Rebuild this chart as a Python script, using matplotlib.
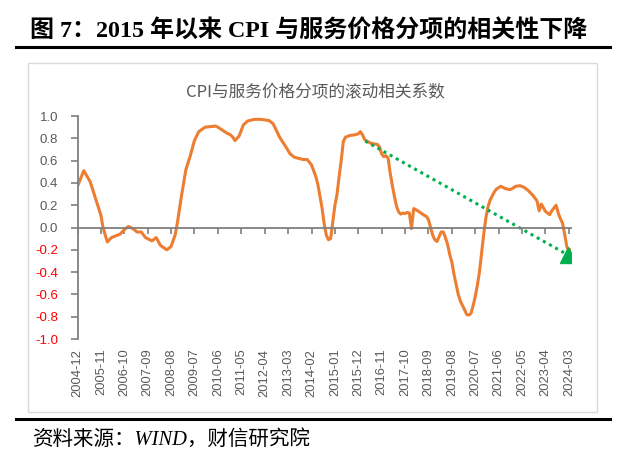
import matplotlib
matplotlib.use('Agg')
import matplotlib.pyplot as plt
import matplotlib.patches as patches
import matplotlib.lines as mlines
import pandas as pd

plt.rcParams['font.family'] = ['Liberation Sans', 'Noto Sans CJK SC']

# rolling correlation (month -> value)
dates = ['2004-12', '2005-03', '2005-06', '2005-08', '2005-11', '2005-12', '2006-02', '2006-04',
         '2006-08', '2006-10', '2006-12', '2007-02', '2007-04', '2007-06', '2007-08', '2007-11',
         '2008-01', '2008-03', '2008-06', '2008-08', '2008-10', '2008-11', '2009-01', '2009-03',
         '2009-05', '2009-07', '2009-09', '2009-12', '2010-05', '2010-06', '2010-10', '2010-12',
         '2011-01', '2011-02', '2011-04', '2011-06', '2011-08', '2011-11', '2012-02', '2012-06',
         '2012-08', '2012-11', '2013-02', '2013-04', '2013-06', '2013-10', '2013-12', '2014-02',
         '2014-04', '2014-05', '2014-06', '2014-07', '2014-08', '2014-09', '2014-10', '2014-11',
         '2014-12', '2015-01', '2015-02', '2015-03', '2015-04', '2015-05', '2015-06', '2015-08',
         '2015-10', '2015-12', '2016-01', '2016-02', '2016-03', '2016-04', '2016-06', '2016-09',
         '2016-10', '2016-11', '2016-12', '2017-01', '2017-02', '2017-03', '2017-04', '2017-05',
         '2017-06', '2017-07', '2017-08', '2017-09', '2017-10', '2017-11', '2017-12', '2018-01',
         '2018-02', '2018-04', '2018-07', '2018-08', '2018-09', '2018-10', '2018-11', '2018-12',
         '2019-01', '2019-02', '2019-03', '2019-04', '2019-05', '2019-06', '2019-07', '2019-08',
         '2019-09', '2019-11', '2019-12', '2020-02', '2020-03', '2020-04', '2020-05', '2020-06',
         '2020-07', '2020-08', '2020-09', '2020-10', '2020-11', '2020-12', '2021-01', '2021-02',
         '2021-04', '2021-05', '2021-07', '2021-09', '2021-11', '2021-12', '2022-02', '2022-04',
         '2022-06', '2022-08', '2022-10', '2022-12', '2023-01', '2023-02', '2023-03', '2023-04',
         '2023-06', '2023-07', '2023-09', '2023-10', '2023-11', '2023-12', '2024-01', '2024-02',
         '2024-03', '2024-04']
corr = [0.37, 0.51, 0.41, 0.29, 0.11, 0.00, -0.13, -0.09,
        -0.06, -0.02, 0.01, -0.01, -0.04, -0.04, -0.09, -0.12,
        -0.09, -0.16, -0.20, -0.17, -0.06, 0.05, 0.30, 0.52,
        0.64, 0.78, 0.86, 0.90, 0.91, 0.90, 0.85, 0.83,
        0.81, 0.78, 0.82, 0.92, 0.955, 0.97, 0.97, 0.96,
        0.93, 0.81, 0.72, 0.66, 0.63, 0.61, 0.61, 0.56,
        0.46, 0.39, 0.28, 0.175, 0.03, -0.07, -0.11, -0.10,
        0.05, 0.20, 0.30, 0.45, 0.60, 0.77, 0.81, 0.825,
        0.83, 0.84, 0.86, 0.83, 0.79, 0.775, 0.755, 0.745,
        0.72, 0.66, 0.635, 0.645, 0.62, 0.49, 0.38, 0.28,
        0.19, 0.14, 0.12, 0.13, 0.125, 0.135, 0.13, -0.01,
        0.17, 0.15, 0.11, 0.10, 0.07, 0.00, -0.07, -0.11,
        -0.125, -0.08, -0.04, -0.04, -0.09, -0.15, -0.24, -0.31,
        -0.42, -0.60, -0.66, -0.74, -0.78, -0.785, -0.77, -0.70,
        -0.62, -0.515, -0.39, -0.22, -0.05, 0.09, 0.19, 0.25,
        0.32, 0.345, 0.37, 0.35, 0.34, 0.345, 0.37, 0.375,
        0.36, 0.33, 0.29, 0.24, 0.15, 0.21, 0.18, 0.145,
        0.115, 0.15, 0.20, 0.13, 0.08, 0.04, -0.06, -0.17,
        -0.21, -0.20]

tick_labels = ['2004-12', '2005-11', '2006-10', '2007-09', '2008-08', '2009-07',
               '2010-06', '2011-05', '2012-04', '2013-03', '2014-02', '2015-01',
               '2015-12', '2016-11', '2017-10', '2018-09', '2019-08', '2020-07',
               '2021-06', '2022-05', '2023-04', '2024-03']
y_ticks = [-1.0, -0.8, -0.6, -0.4, -0.2, 0.0, 0.2, 0.4, 0.6, 0.8, 1.0]

# hand-drawn downward trend arrow
trend_dates = ['2016-03-10', '2024-02-15']
trend_vals = [0.775, -0.245]

x = pd.to_datetime(dates, format='%Y-%m')
ticks = pd.to_datetime(tick_labels, format='%Y-%m')
tx = pd.to_datetime(trend_dates, format='%Y-%m-%d')

fig = plt.figure(figsize=(6.25, 4.68), dpi=100)

# header
fig.text(0.048, 0.9348, '图 7：2015 年以来 CPI 与服务价格分项的相关性下降',
         family=['Liberation Serif', 'Noto Sans CJK SC'], weight='bold',
         fontsize=17.3, va='center', ha='left', color='black')
fig.add_artist(mlines.Line2D([0.0256, 0.976], [0.8996, 0.8996], color='black', lw=2.2))
fig.add_artist(patches.Rectangle((0.0448, 0.1197), 0.9104, 0.7457, transform=fig.transFigure,
                                 fill=False, edgecolor='#d9d9d9', lw=1))
fig.add_artist(mlines.Line2D([0.0256, 0.976], [0.1047, 0.1047], color='black', lw=2.2))
fig.text(0.0528, 0.0598, '资料来源：WIND，财信研究院',
         family=['Liberation Serif', 'Noto Sans CJK SC'], style='italic',
         fontsize=14.8, va='center', ha='left', color='black')

fig.text(0.504, 0.8013, 'CPI与服务价格分项的滚动相关系数', family=['Noto Sans CJK SC'],
         fontsize=12, color='#595959', ha='center', va='center')

ax = fig.add_axes([0.124, 0.2756, 0.7896, 0.4765])
ax.plot(x, corr, color='#ED7D31', lw=2.2, solid_joinstyle='round')
ax.plot(tx, trend_vals, color='#00B050', lw=2.2, linestyle=(0, (1, 1.3)))
ax.plot(tx[-1:], trend_vals[-1:], marker='^', color='#00B050',
        markersize=11, linestyle='none')

ax.set_xlim(pd.Timestamp('2004-12-01'), pd.Timestamp('2024-04-01'))
ax.set_ylim(-1.0, 1.0)
ax.set_yticks(y_ticks)
ax.set_yticklabels([f'{v:.1f}' for v in y_ticks])
for lab, v in zip(ax.get_yticklabels(), y_ticks):
    lab.set_color('red' if v < 0 else '#595959')
ax.tick_params(axis='y', direction='out', length=5, width=1.2, color='#7f7f7f',
               labelsize=9.5, pad=9)

for s in ['top', 'right']:
    ax.spines[s].set_visible(False)
ax.spines['left'].set_color('#7f7f7f')
ax.spines['left'].set_linewidth(1.3)
ax.spines['bottom'].set_position(('data', 0))
ax.spines['bottom'].set_color('#7f7f7f')
ax.spines['bottom'].set_linewidth(1.3)
ax.set_xticks(ticks)
ax.tick_params(axis='x', direction='out', length=4, width=1.2, color='#7f7f7f',
               labelbottom=False)

# date labels at the bottom of the plot area
ax2 = ax.twiny()
ax2.set_xlim(ax.get_xlim())
ax2.xaxis.set_ticks_position('bottom')
ax2.xaxis.set_label_position('bottom')
ax2.set_xticks(ticks)
ax2.set_xticklabels(tick_labels, rotation=90)
ax2.tick_params(axis='x', length=0, labelsize=9.3, labelcolor='#595959', pad=7,
                labelbottom=True, labeltop=False)
for s in ax2.spines.values():
    s.set_visible(False)

fig.savefig('out.png', dpi=100)
